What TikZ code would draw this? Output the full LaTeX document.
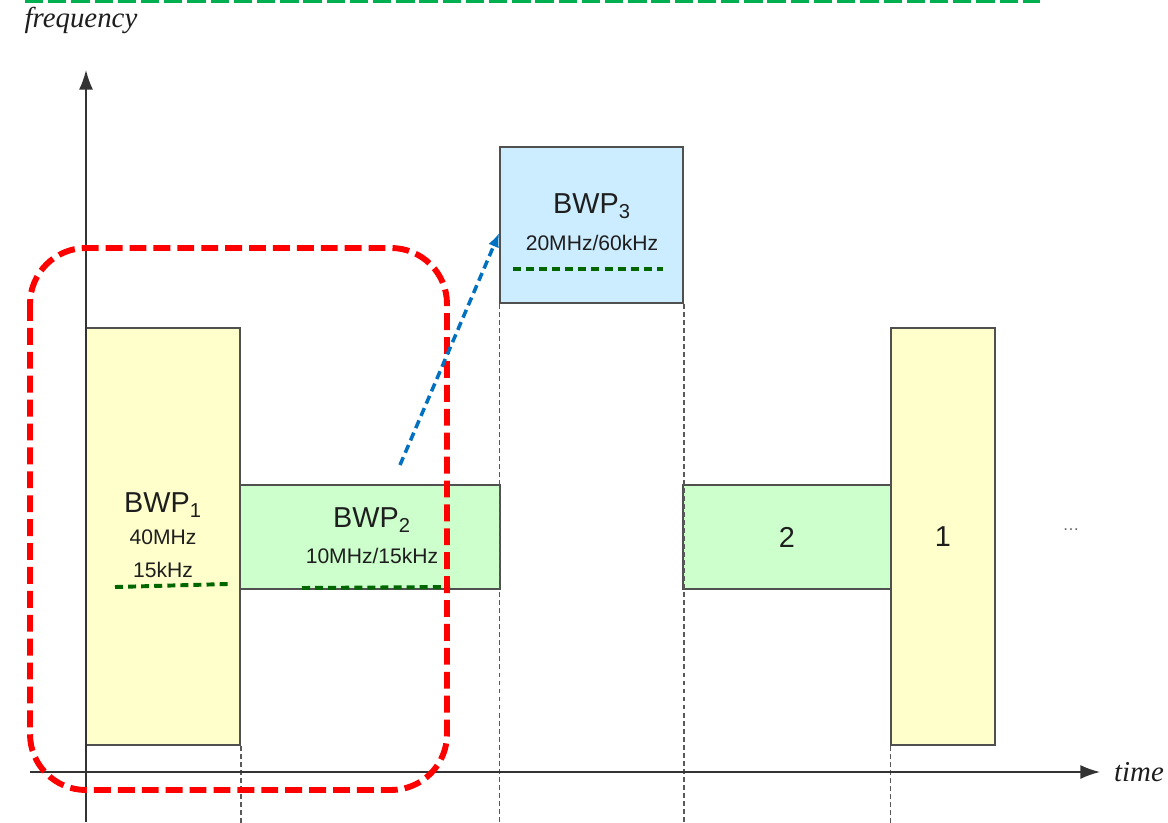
\documentclass[tikz,border=0pt]{standalone}
\usepackage{fontspec}
\setmainfont{Liberation Serif}
\setsansfont{Liberation Sans}
\usetikzlibrary{arrows.meta}

\definecolor{bwpyellow}{HTML}{FFFFCC}
\definecolor{bwpgreen}{HTML}{CCFFCC}
\definecolor{bwpblue}{HTML}{CCECFF}
\definecolor{boxline}{HTML}{505050}
\definecolor{txt}{HTML}{1E1E1E}
\definecolor{scsgreen}{HTML}{006600}
\definecolor{topgreen}{HTML}{00B050}
\definecolor{jumpblue}{HTML}{0070C0}

\begin{document}
\begin{tikzpicture}[
    x=0.025cm, y=-0.025cm,
    bwp/.style={rectangle, draw=boxline, line width=1.1pt, inner sep=0pt, text=txt,
                font=\sffamily\fontsize{20.5}{24}\selectfont},
    tall/.style={bwp, fill=bwpyellow, minimum width=3.85cm, minimum height=10.425cm},
    flat/.style={bwp, fill=bwpgreen, minimum height=2.6cm},
    high/.style={bwp, fill=bwpblue, minimum width=4.575cm, minimum height=3.9cm},
    title/.style={text=txt, font=\sffamily\fontsize{20.5}{24}\selectfont},
    info/.style={text=txt, font=\sffamily\fontsize{15}{18}\selectfont},
    axislabel/.style={text=txt, font=\itshape\fontsize{20.5}{24}\selectfont},
    axis/.style={-{Latex[length=14pt,width=10pt]}, line width=1.2pt, draw=black!80},
    guide/.style={dash pattern=on 3.5pt off 2.2pt, line width=1pt, draw=black!65},
    scs/.style={dash pattern=on 5.7pt off 3.6pt, line width=2.8pt, draw=scsgreen},
    arrow/.style={-{Latex[length=10pt,width=8pt]}, dash pattern=on 6pt off 3.5pt,
                  line width=2.5pt, draw=jumpblue}
]
\useasboundingbox (0,0) rectangle (1168,822);

% bandwidth parts over time
\node[tall] (bwp1) at (163,536.5) {};
\node[flat, minimum width=6.5cm] (bwp2) at (370,537) {};
\node[high] (bwp3) at (591.5,225) {};
\node[flat, minimum width=5.2cm] (slot2) at (787,537) {2};
\node[tall, minimum width=2.6cm] (slot1) at (943,536.5) {1};

% guide lines
\draw[guide] (bwp1.south east) -- ++(0,77);
\draw[guide] (bwp3.south west) -- ++(0,519);
\draw[guide] (bwp3.south east) -- ++(0,519);
\draw[guide] (slot1.south west) -- ++(0,77);

% axes
\coordinate (ybase) at (86,822);
\coordinate (ytip) at (86,70);
\coordinate (xbase) at (30,772);
\coordinate (xtip) at (1100,772);
\draw[axis] (ybase) -- (ytip);
\draw[axis] (xbase) -- (xtip);
\node[axislabel] (freq) at (81,20) {frequency};
\node[axislabel] (time) at (1139,772) {time};

% labels
\node[title] (bwp1t) at (163,505) {BWP\textsubscript{1}};
\node[info] (bwp1a) at (163,537) {40MHz};
\node[info] (bwp1b) at (163,570) {15kHz};
\node[title] (bwp2t) at (372,520) {BWP\textsubscript{2}};
\node[info] (bwp2a) at (372,556) {10MHz/15kHz};
\node[title] (bwp3t) at (592,206) {BWP\textsubscript{3}};
\node[info] (bwp3a) at (592,243) {20MHz/60kHz};
\node[text=black!60, font=\sffamily\fontsize{12}{14}\selectfont] (more) at (1071,530) {\dots};

% subcarrier spacing marks
\draw[scs] (115,587) -- (228,584);
\draw[scs] (302,588) -- (450,587);
\draw[scs] (513,269) -- (663,269);

% highlight
\draw[red, line width=4.2pt, dash pattern=on 12pt off 5pt, rounded corners=1.4cm]
    (30,248) rectangle (447,790);
\draw[topgreen, line width=2.8pt, dash pattern=on 13pt off 3.5pt] (25,1) -- (1040,1);

% switch
\coordinate (jump) at (400,465);
\draw[arrow] (jump) -- ([yshift=-0.2cm]bwp3.west);
\end{tikzpicture}
\end{document}
